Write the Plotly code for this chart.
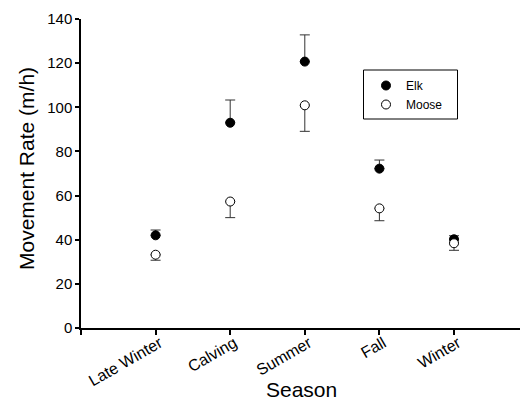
import plotly.graph_objects as go

seasons = ["Late Winter", "Calving", "Summer", "Fall", "Winter"]
positions = [1, 2, 3, 4, 5]
elk_mean = [42.0, 93.0, 120.7, 72.2, 40.2]
elk_err_up = [2.4, 10.3, 12.1, 3.9, 1.6]
moose_mean = [33.2, 57.3, 100.9, 54.2, 38.4]
moose_err_down = [2.5, 7.3, 11.8, 5.6, 3.2]

FONT = "Liberation Sans, Arial, sans-serif"

# page body has an 8px margin; figure coordinates = screen - 8
OFF = 8
FW, FH = 520, 392
L, T, W, H = 81 - OFF, 19 - OFF, 442, 309

fig = go.Figure()
fig.add_trace(go.Scatter(
    x=positions, y=elk_mean, mode="markers", name="Elk",
    marker=dict(symbol="circle", size=9, color="black", line=dict(color="black", width=1)),
    error_y=dict(type="data", array=elk_err_up, arrayminus=[0]*5, symmetric=False,
                 color="#333333", thickness=1, width=5),
))
fig.add_trace(go.Scatter(
    x=positions, y=moose_mean, mode="markers", name="Moose",
    marker=dict(symbol="circle", size=9, color="white", line=dict(color="black", width=1)),
    error_y=dict(type="data", array=[0]*5, arrayminus=moose_err_down, symmetric=False,
                 color="#333333", thickness=1, width=5),
))

def px_x(p):
    return (p - OFF - L) / W

def px_y(p):
    return (T + H - (p - OFF)) / H

fig.update_layout(
    width=FW, height=FH,
    margin=dict(l=L, r=FW - L - W, t=T, b=FH - T - H, autoexpand=False),
    paper_bgcolor="white", plot_bgcolor="white",
    font=dict(family=FONT, color="black"),
    showlegend=True,
    legend=dict(
        x=px_x(366), y=px_y(71), xanchor="left", yanchor="top",
        borderwidth=0, bgcolor="rgba(0,0,0,0)",
        font=dict(size=12, family=FONT),
    ),
    shapes=[
        dict(type="rect", xref="paper", yref="paper",
             x0=px_x(363.5), x1=px_x(457.5), y0=px_y(70), y1=px_y(119),
             line=dict(color="black", width=1), fillcolor="rgba(0,0,0,0)", layer="above"),
    ],
    xaxis=dict(
        range=[0, W / 74.6], automargin=False,
        tickmode="array", tickvals=[0] + positions, ticktext=[""] + seasons,
        tickangle=-30, tickfont=dict(size=16),
        ticklabelstandoff=-7, ticklabelshift=4,
        ticks="outside", ticklen=5, tickwidth=1.5, tickcolor="black",
        showline=True, linecolor="black", linewidth=1.5,
        showgrid=False, zeroline=False,
    ),
    yaxis=dict(
        range=[0, 140], automargin=False,
        tickmode="array", tickvals=[0, 20, 40, 60, 80, 100, 120, 140],
        tickfont=dict(size=15),
        ticks="outside", ticklen=4, tickwidth=1.5, tickcolor="black",
        showline=True, linecolor="black", linewidth=1.5,
        showgrid=False, zeroline=False,
    ),
    annotations=[
        dict(text="Season", xref="paper", yref="paper", x=px_x(301), y=px_y(389.5),
             xanchor="center", yanchor="middle", showarrow=False,
             font=dict(size=21, family=FONT, color="black")),
        dict(text="Movement Rate (m/h)", xref="paper", yref="paper", x=px_x(26), y=px_y(169),
             xanchor="center", yanchor="middle", showarrow=False, textangle=-90,
             font=dict(size=21, family=FONT, color="black")),
    ],
)

fig.write_html("out.html")
